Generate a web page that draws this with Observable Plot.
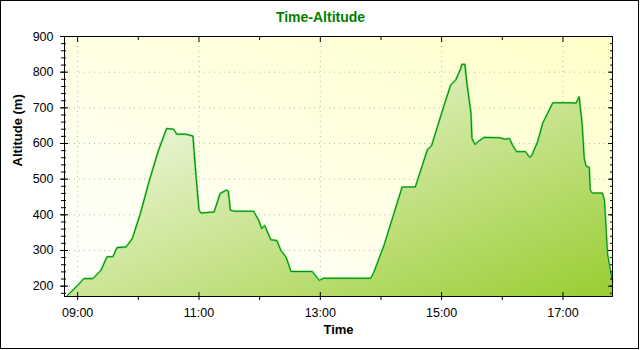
<!DOCTYPE html>
<html><head><meta charset="utf-8">
<script src="https://cdn.jsdelivr.net/npm/d3@7"></script>
<script src="https://cdn.jsdelivr.net/npm/@observablehq/plot@0.6"></script>
<style>
html,body{margin:0;padding:0;background:#fff}
#chart{width:640px;height:350px}
</style></head><body><div id="chart"></div>
<script>
const times = ["08:50","09:00","09:06","09:15","09:23","09:29","09:35","09:39","09:48","09:54",
  "10:02","10:11","10:20","10:28","10:35","10:38","10:47","10:54","10:57","11:00",
  "11:02","11:15","11:21","11:27","11:29","11:31","11:35","11:54","11:59","12:02",
  "12:05","12:11","12:17","12:21","12:26","12:31","12:52","12:59","13:03","13:50",
  "13:53","14:03","14:21","14:34","14:46","14:50","15:02","15:09","15:14","15:19",
  "15:20","15:23","15:25","15:29","15:30","15:33","15:36","15:42","15:58","16:02",
  "16:07","16:10","16:14","16:23","16:27","16:29","16:35","16:40","16:50","17:08",
  "17:13","17:16","17:19","17:21","17:23","17:26","17:27","17:29","17:39","17:41",
  "17:44","17:46","17:49"];
const altitudes = [174,202,221,221,244,282,283,308,310,333,
  403,497,581,642,640,626,626,621,511,413,
  405,408,460,469,467,413,410,410,385,361,
  370,330,328,300,282,241,241,216,222,222,
  239,314,478,478,583,593,703,764,778,811,
  822,822,769,685,614,597,605,617,616,612,
  614,596,577,577,561,565,605,657,714,714,
  713,731,652,558,536,533,469,461,461,441,
  291,258,211];

const title = "Time-Altitude";
const xLabel = "Time";
const yLabel = "Altitude (m)";
const xMajorTicks = ["09:00","11:00","13:00","15:00","17:00"];
const xMinorTicks = ["10:00","12:00","14:00","16:00"];
const yMajorTicks = [200,300,400,500,600,700,800,900];
const yMinorTicks = d3.range(180, 901, 20);
const yDomain = [171, 900];
const xDomain = ["08:47","17:49"];

const parseT = s => { const [h,m] = s.split(":").map(Number); return new Date(Date.UTC(2000,0,1,h,m)); };
const data = times.map((t,i) => ({time: parseT(t), alt: altitudes[i]}));
const xMaj = xMajorTicks.map(parseT);
const xMin = xMinorTicks.map(parseT);
const fmt = d3.utcFormat("%H:%M");

const plot = Plot.plot({
  width: 640, height: 350,
  marginLeft: 64, marginRight: 28, marginTop: 36, marginBottom: 54,
  style: {fontFamily: "'Liberation Sans', Arial, sans-serif", fontSize: "12.5px", color: "#000", background: "transparent", overflow: "visible"},
  x: {type: "utc", domain: xDomain.map(parseT)},
  y: {domain: yDomain},
  marks: [
    Plot.frame({fill: "url(#bgGrad)", stroke: null}),
    Plot.gridY(yMajorTicks, {stroke: "#b8b8b8", strokeOpacity: 1, strokeDasharray: "1,4"}),
    Plot.gridX(xMaj, {stroke: "#b8b8b8", strokeOpacity: 1, strokeDasharray: "1,4"}),
    Plot.areaY(data, {x: "time", y1: yDomain[0], y2: "alt", fill: "url(#areaGrad)"}),
    Plot.lineY(data, {x: "time", y: "alt", stroke: "#77dd77", strokeWidth: 2.2}),
    Plot.lineY(data, {x: "time", y: "alt", stroke: "#008800", strokeWidth: 1}),
    Plot.frame({stroke: "#000", strokeWidth: 1}),
    Plot.axisY(yMinorTicks, {anchor: "left", tickSize: 5, insetLeft: 2, tickFormat: () => "", label: null}),
    Plot.axisY(yMajorTicks, {anchor: "left", tickSize: 8, insetLeft: 4, tickPadding: 7, tickFormat: d => String(d), label: null}),
    Plot.axisY(yMinorTicks, {anchor: "right", tickSize: 3, insetRight: 3, tickFormat: () => "", label: null}),
    Plot.axisY(yMajorTicks, {anchor: "right", tickSize: 5, insetRight: 5, tickFormat: () => "", label: null}),
    Plot.axisX(xMin, {anchor: "bottom", tickSize: 4, tickFormat: () => "", label: null}),
    Plot.axisX(xMaj, {anchor: "bottom", tickSize: 8, insetBottom: 4, tickPadding: 8, tickFormat: fmt, label: null}),
    Plot.axisX(xMin, {anchor: "top", tickSize: 3, insetTop: 3, tickFormat: () => "", label: null}),
    Plot.axisX(xMaj, {anchor: "top", tickSize: 5, insetTop: 5, tickFormat: () => "", label: null}),
    Plot.text([yLabel], {frameAnchor: "left", rotate: -90, dx: -47, fontWeight: "bold", fontSize: 13, fill: "#000"}),
    Plot.text([xLabel], {frameAnchor: "bottom", dy: 37, fontWeight: "bold", fontSize: 13, fill: "#000"}),
    Plot.text([title], {frameAnchor: "top", dy: -19, dx: -18, lineAnchor: "middle", fontWeight: "bold", fontSize: 14, fill: "#008000"})
  ]
});

const svg = d3.select(plot);
const defs = svg.insert("defs", ":first-child");
const bg = defs.append("linearGradient").attr("id", "bgGrad").attr("x1", 0).attr("y1", 1).attr("x2", 1).attr("y2", 0);
bg.append("stop").attr("offset", 0).attr("stop-color", "#ffffff");
bg.append("stop").attr("offset", 1).attr("stop-color", "#ffffc8");
const ag = defs.append("linearGradient").attr("id", "areaGrad").attr("x1", 0).attr("y1", 0).attr("x2", 1).attr("y2", 1);
ag.append("stop").attr("offset", 0).attr("stop-color", "#ffffff");
ag.append("stop").attr("offset", 1).attr("stop-color", "#9acd32");
svg.append("rect").attr("x", 0.5).attr("y", 0.5).attr("width", 638).attr("height", 348)
  .attr("fill", "none").attr("stroke", "#000").attr("stroke-width", 1);

document.getElementById("chart").appendChild(plot);
</script>
</body></html>
